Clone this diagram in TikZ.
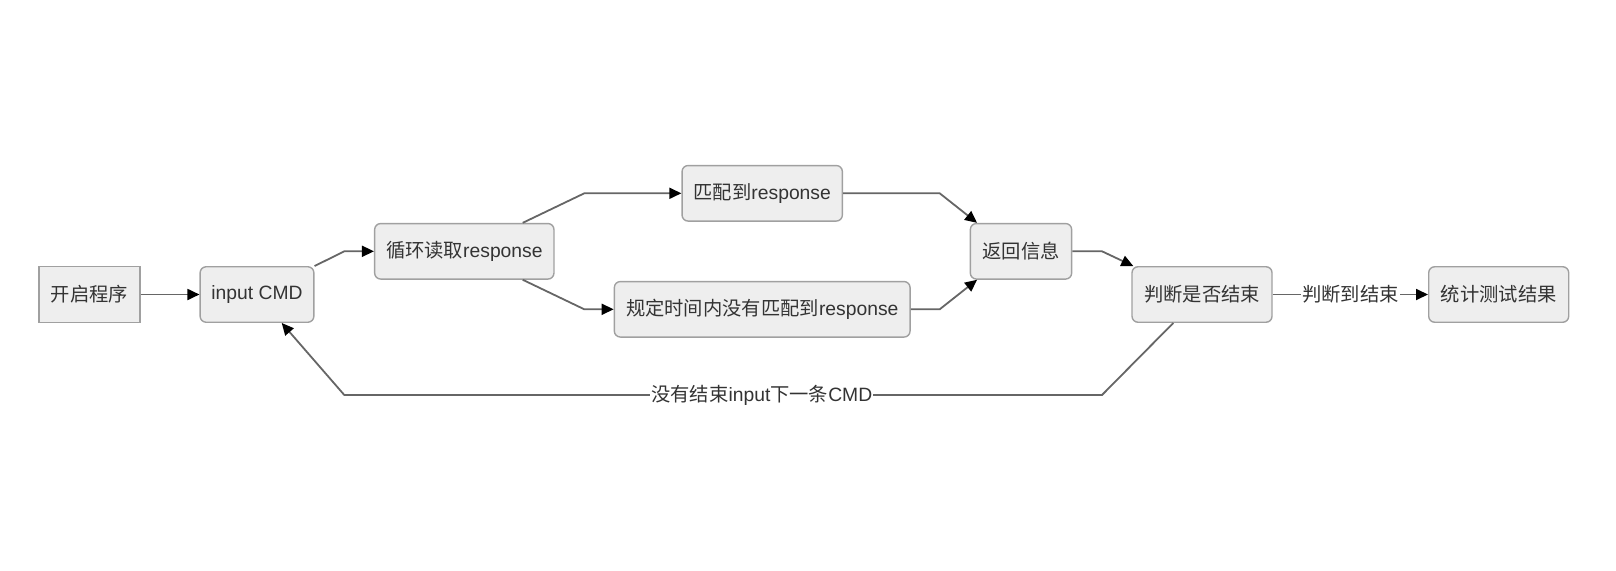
\documentclass[tikz,border=0pt]{standalone}
\usepackage{fontspec}
\setmainfont{Liberation Sans}
\newfontfamily\cjk{Noto Sans CJK SC}
\usetikzlibrary{arrows.meta,calc}
\definecolor{boxfill}{HTML}{EEEEEE}
\definecolor{boxline}{HTML}{A0A0A0}
\definecolor{txt}{HTML}{333333}
\definecolor{edge}{HTML}{666666}
\begin{document}
\begin{tikzpicture}[x=1pt,y=-1pt,
  every node/.style={font=\fontsize{19.3}{22}\selectfont, text=txt},
  box/.style={draw=boxline, fill=boxfill, line width=1.4pt, rounded corners=6pt, inner sep=0pt, minimum height=55.5pt},
  sqbox/.style={draw=boxline, fill=boxfill, line width=1.4pt, inner sep=0pt, minimum height=55.5pt},
  conn/.style={draw=edge, line width=1.8pt, -{Triangle[length=12pt,width=11pt,color=black]}},
  lab/.style={fill=white, inner sep=1pt}]
\useasboundingbox (0,0) rectangle (1616,570);
\node[sqbox, minimum width=101pt] (start) at (89.5,294.5) {\cjk 开启程序};
\node[box, minimum width=113.7pt] (input) at (257,294.5) {input CMD};
\node[box, minimum width=179.3pt] (loop) at (464.3,251.3) {{\cjk 循环读取}response};
\node[box, minimum width=160.3pt] (match) at (762.2,193.3) {{\cjk 匹配到}response};
\node[box, minimum width=295.7pt] (timeout) at (762.2,309.3) {{\cjk 规定时间内没有匹配到}response};
\node[box, minimum width=101.3pt] (ret) at (1021,251.3) {\cjk 返回信息};
\node[box, minimum width=140pt] (judge) at (1202,294.5) {\cjk 判断是否结束};
\node[box, minimum width=140pt] (stat) at (1498.7,294.5) {\cjk 统计测试结果};
\coordinate (a1) at (344.3,251.3);
\coordinate (b1) at (584.3,193.3);
\coordinate (c1) at (584.3,309.3);
\coordinate (d1) at (939.7,193.3);
\coordinate (e1) at (939.7,309.3);
\coordinate (f1) at (1102,251.3);
\coordinate (g1) at (1102,395);
\coordinate (g2) at (344.3,395);
\draw[conn] (input.north east) -- (a1) -- (loop.west);
\draw[conn] (start) -- (input);
\draw[conn] ($(loop.north)+(58.4,0)$) -- (b1) -- (match.west);
\draw[conn] ($(loop.south)+(58.4,0)$) -- (c1) -- (timeout.west);
\draw[conn] (match.east) -- (d1) -- ($(ret.north west)+(7.4,0)$);
\draw[conn] (timeout.east) -- (e1) -- ($(ret.south west)+(7.4,0)$);
\draw[conn] (ret.east) -- (f1) -- ($(judge.north west)+(2,0)$);
\draw[conn] (judge) -- node[lab] {\cjk 判断到结束} (stat);
\draw[conn] ($(judge.south west)+(42,0)$) -- (g1) -- node[lab, pos=0.449] {{\cjk 没有结束}input{\cjk 下一条}CMD} (g2) -- ($(input.south)+(24.7,0)$);
\end{tikzpicture}
\end{document}
